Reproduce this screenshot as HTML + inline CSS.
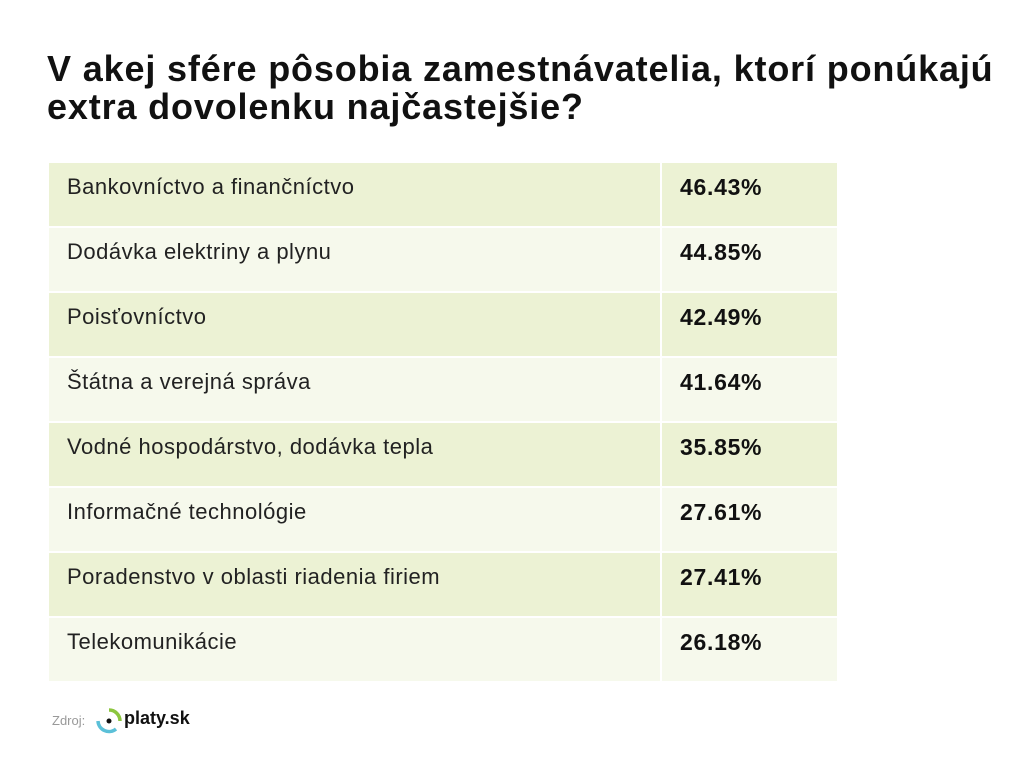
<!DOCTYPE html>
<html><head><meta charset="utf-8"><style>
body{margin:0;width:1024px;height:760px;background:#fff;font-family:"Liberation Sans",sans-serif;position:relative;overflow:hidden}
h1{position:absolute;left:47px;top:50px;margin:0;font-size:36px;line-height:38px;font-weight:bold;color:#111;letter-spacing:0.85px;white-space:nowrap}
.row{position:absolute;left:49px;width:788px;height:63px}
.l,.v{position:absolute;top:0;height:63px;line-height:48px;white-space:nowrap}
.l{left:0;width:611px;padding-left:18px;font-size:22px;color:#222;box-sizing:border-box;letter-spacing:0.5px}
.v{left:613px;width:175px;padding-left:18px;font-size:23px;font-weight:bold;color:#111;box-sizing:border-box;letter-spacing:0.7px}
.a .l,.a .v{background:#ecf2d4}.b .l,.b .v{background:#f6f9ec}
</style></head><body>
<h1>V akej sfére pôsobia zamestnávatelia, ktorí ponúkajú<br>extra dovolenku najčastejšie?</h1>
<div class="row a" style="top:163px"><div class="l">Bankovníctvo a finančníctvo</div><div class="v">46.43%</div></div>
<div class="row b" style="top:228px"><div class="l">Dodávka elektriny a plynu</div><div class="v">44.85%</div></div>
<div class="row a" style="top:293px"><div class="l">Poisťovníctvo</div><div class="v">42.49%</div></div>
<div class="row b" style="top:358px"><div class="l">Štátna a verejná správa</div><div class="v">41.64%</div></div>
<div class="row a" style="top:423px"><div class="l">Vodné hospodárstvo, dodávka tepla</div><div class="v">35.85%</div></div>
<div class="row b" style="top:488px"><div class="l">Informačné technológie</div><div class="v">27.61%</div></div>
<div class="row a" style="top:553px"><div class="l">Poradenstvo v oblasti riadenia firiem</div><div class="v">27.41%</div></div>
<div class="row b" style="top:618px"><div class="l">Telekomunikácie</div><div class="v">26.18%</div></div>
<div style="position:absolute;left:52px;top:713px;font-size:13px;color:#999">Zdroj:</div>
<svg style="position:absolute;left:96px;top:708px" width="26" height="26" viewBox="0 0 26 26">
<path d="M13 2 A11 11 0 0 1 24 13" stroke="#8cc63f" stroke-width="3.5" fill="none"/>
<path d="M2 13 A11 11 0 0 0 20 21" stroke="#5bc0d8" stroke-width="3.5" fill="none"/>
<circle cx="13" cy="13" r="2.5" fill="#111"/></svg>
<div style="position:absolute;left:124px;top:708px;font-size:18px;font-weight:bold;color:#111">platy.sk</div>
</body></html>
